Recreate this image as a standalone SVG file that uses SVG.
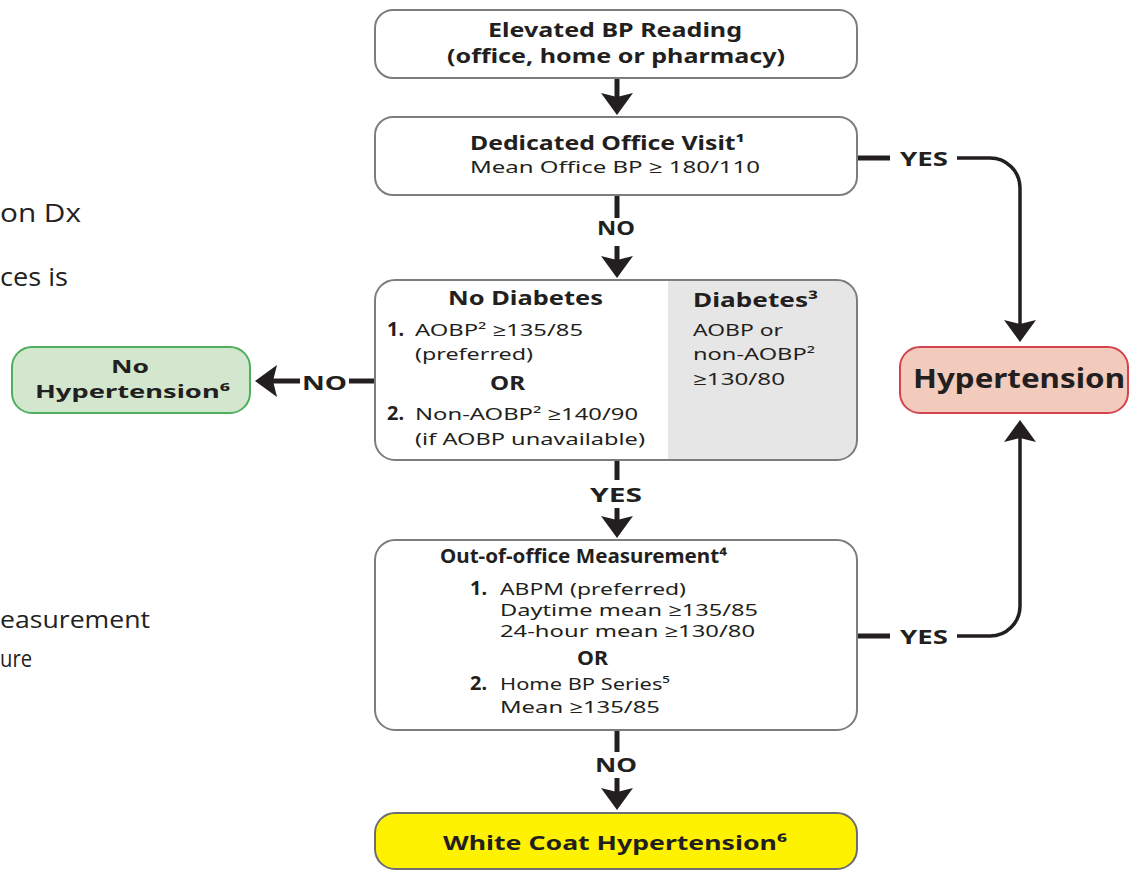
<svg xmlns="http://www.w3.org/2000/svg" width="1130" height="871" viewBox="0 0 1130 871">
<style>
text{font-family:"Noto Sans","Open Sans","DejaVu Sans",sans-serif;fill:#231f20;}
.b{font-weight:bold;font-size:19px;}
.r{font-size:17px;}
.lbl{font-weight:bold;font-size:19px;}
.frag{font-family:"Open Sans","Noto Sans",sans-serif;fill:#222;}
.box{fill:#fff;stroke:#7d7d7d;stroke-width:2;}
.ln{fill:none;stroke:#231f20;stroke-width:5;}
.cv{fill:none;stroke:#231f20;stroke-width:3.5;}
</style>
<defs>
<marker id="ah" markerUnits="userSpaceOnUse" viewBox="0 0 22 32" markerWidth="22" markerHeight="32" refX="10" refY="16" orient="auto"><path d="M0,0 L22,16 L0,32 L4,16 Z" fill="#231f20"/></marker>
<clipPath id="c3"><rect x="375" y="280" width="482" height="180" rx="20"/></clipPath>
</defs>
<g id="fragments">
<text class="frag" x="0" y="222" font-size="26" textLength="81" lengthAdjust="spacingAndGlyphs">on Dx</text>
<text class="frag" x="0" y="286" font-size="26" textLength="68" lengthAdjust="spacingAndGlyphs">ces is</text>
<text class="frag" x="0" y="628" font-size="24" textLength="150" lengthAdjust="spacingAndGlyphs">easurement</text>
<text class="frag" x="0" y="667" font-size="24" textLength="32" lengthAdjust="spacingAndGlyphs">ure</text>
</g>
<g id="connectors">
<line class="ln" x1="617" y1="78" x2="617" y2="103" marker-end="url(#ah)"/>
<line class="ln" x1="617" y1="195" x2="617" y2="218"/>
<text class="lbl" x="597" y="235" textLength="38" lengthAdjust="spacingAndGlyphs">NO</text>
<line class="ln" x1="617" y1="246" x2="617" y2="266" marker-end="url(#ah)"/>
<line class="ln" x1="375" y1="381" x2="349" y2="381"/>
<text class="lbl" x="302" y="390" font-size="20" textLength="45" lengthAdjust="spacingAndGlyphs">NO</text>
<line class="ln" x1="300" y1="381" x2="267" y2="381" marker-end="url(#ah)"/>
<line class="ln" x1="617" y1="460" x2="617" y2="480"/>
<text class="lbl" x="590" y="502" textLength="52" lengthAdjust="spacingAndGlyphs">YES</text>
<line class="ln" x1="617" y1="508" x2="617" y2="526" marker-end="url(#ah)"/>
<line class="ln" x1="617" y1="730" x2="617" y2="752"/>
<text class="lbl" x="595" y="772" textLength="42" lengthAdjust="spacingAndGlyphs">NO</text>
<line class="ln" x1="617" y1="778" x2="617" y2="798" marker-end="url(#ah)"/>
<line class="ln" x1="857" y1="158" x2="890" y2="158"/>
<text class="lbl" x="900" y="166" textLength="48" lengthAdjust="spacingAndGlyphs">YES</text>
<path class="cv" d="M957,158 H990 A30,30 0 0 1 1020,188 V330" marker-end="url(#ah)"/>
<line class="ln" x1="857" y1="636" x2="890" y2="636"/>
<text class="lbl" x="900" y="644" textLength="48" lengthAdjust="spacingAndGlyphs">YES</text>
<path class="cv" d="M957,636 H990 A30,30 0 0 0 1020,606 V432" marker-end="url(#ah)"/>
</g>
<g id="elevated">
<rect class="box" x="375" y="10" width="482" height="68" rx="18"/>
<text class="b" x="488" y="37" textLength="254" lengthAdjust="spacingAndGlyphs">Elevated BP Reading</text>
<text class="b" x="447" y="63" textLength="338" lengthAdjust="spacingAndGlyphs">(office, home or pharmacy)</text>
</g>
<g id="dedicated">
<rect class="box" x="375" y="117" width="482" height="78" rx="18"/>
<text class="b" x="470" y="150" textLength="275" lengthAdjust="spacingAndGlyphs">Dedicated Office Visit¹</text>
<text class="r" x="470" y="173" textLength="290" lengthAdjust="spacingAndGlyphs">Mean Office BP  ≥ 180/110</text>
</g>
<g id="criteria">
<rect x="375" y="280" width="482" height="180" fill="#fff"/>
<rect x="668" y="280" width="189" height="180" fill="#e6e6e6" clip-path="url(#c3)"/>
<rect x="375" y="280" width="482" height="180" rx="20" fill="none" stroke="#7d7d7d" stroke-width="2"/>
<text class="b" x="448" y="305" textLength="155" lengthAdjust="spacingAndGlyphs">No Diabetes</text>
<text class="b" x="387" y="336" textLength="17" lengthAdjust="spacingAndGlyphs">1.</text>
<text class="r" x="415" y="336" textLength="168" lengthAdjust="spacingAndGlyphs">AOBP² ≥135/85</text>
<text class="r" x="415" y="360" textLength="118" lengthAdjust="spacingAndGlyphs">(preferred)</text>
<text class="b" x="490" y="390" textLength="35" lengthAdjust="spacingAndGlyphs">OR</text>
<text class="b" x="387" y="420" textLength="17" lengthAdjust="spacingAndGlyphs">2.</text>
<text class="r" x="415" y="420" textLength="223" lengthAdjust="spacingAndGlyphs">Non-AOBP² ≥140/90</text>
<text class="r" x="415" y="445" textLength="230" lengthAdjust="spacingAndGlyphs">(if AOBP unavailable)</text>
<text class="b" x="693" y="307" textLength="125" lengthAdjust="spacingAndGlyphs">Diabetes³</text>
<text class="r" x="693" y="336" textLength="90" lengthAdjust="spacingAndGlyphs">AOBP or</text>
<text class="r" x="693" y="360" textLength="122" lengthAdjust="spacingAndGlyphs">non-AOBP²</text>
<text class="r" x="693" y="385" textLength="92" lengthAdjust="spacingAndGlyphs">≥130/80</text>
</g>
<g id="nohyp">
<rect x="12" y="347" width="238" height="66" rx="20" fill="#d3e7cf" stroke="#4fae5f" stroke-width="2"/>
<text class="b" x="111" y="373" style="font-size:18px" textLength="38" lengthAdjust="spacingAndGlyphs">No</text>
<text class="b" x="35" y="398" style="font-size:18px" textLength="195" lengthAdjust="spacingAndGlyphs">Hypertension⁶</text>
</g>
<g id="hyp">
<rect x="900" y="347" width="228" height="66" rx="20" fill="#f2cbbd" stroke="#d2454f" stroke-width="2"/>
<text x="913" y="388" font-weight="bold" font-size="27" textLength="212" lengthAdjust="spacingAndGlyphs">Hypertension</text>
</g>
<g id="outoffice">
<rect class="box" x="375" y="540" width="482" height="190" rx="20"/>
<text class="b" x="440" y="563" textLength="287" lengthAdjust="spacingAndGlyphs">Out-of-office Measurement⁴</text>
<text class="b" x="470" y="595" textLength="17" lengthAdjust="spacingAndGlyphs">1.</text>
<text class="r" x="500" y="595" textLength="186" lengthAdjust="spacingAndGlyphs">ABPM (preferred)</text>
<text class="r" x="500" y="616" textLength="258" lengthAdjust="spacingAndGlyphs">Daytime mean ≥135/85</text>
<text class="r" x="500" y="637" textLength="255" lengthAdjust="spacingAndGlyphs">24-hour mean ≥130/80</text>
<text class="b" x="577" y="665" textLength="31" lengthAdjust="spacingAndGlyphs">OR</text>
<text class="b" x="470" y="690" textLength="17" lengthAdjust="spacingAndGlyphs">2.</text>
<text class="r" x="500" y="690" textLength="170" lengthAdjust="spacingAndGlyphs">Home BP Series⁵</text>
<text class="r" x="500" y="713" textLength="160" lengthAdjust="spacingAndGlyphs">Mean ≥135/85</text>
</g>
<g id="whitecoat">
<rect x="375" y="813" width="482" height="56" rx="20" fill="#fff200" stroke="#6d6e71" stroke-width="2"/>
<text class="b" x="443" y="850" textLength="344" lengthAdjust="spacingAndGlyphs">White Coat Hypertension⁶</text>
</g>
</svg>
